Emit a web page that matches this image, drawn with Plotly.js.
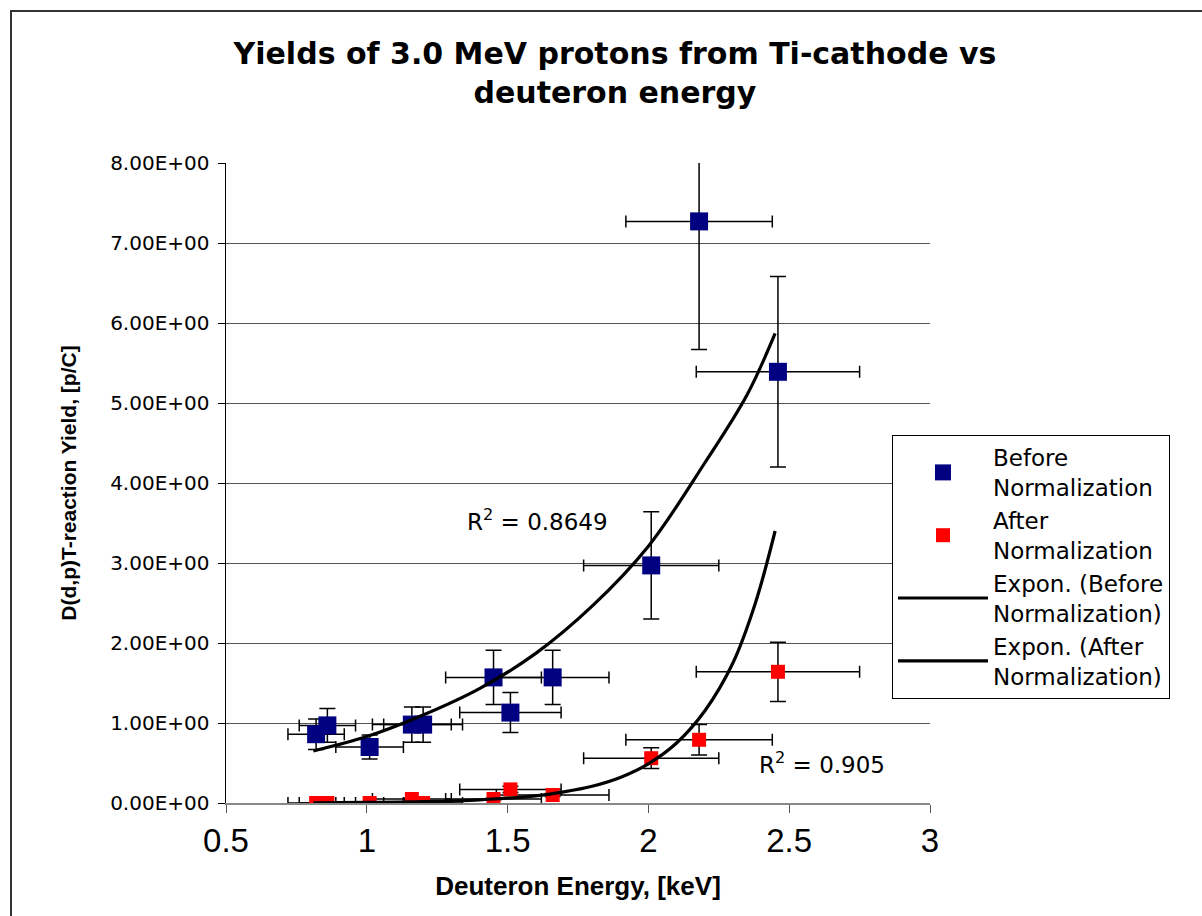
<!DOCTYPE html>
<html>
<head>
<meta charset="utf-8">
<script src="https://cdn.plot.ly/plotly-3.0.1.min.js"></script>
<style>
  html, body { margin: 0; padding: 0; background: #fff; overflow: hidden; }
  #frame { position: absolute; left: 10px; top: 10px; width: 1400px; height: 1100px; border: 2px solid #333; box-sizing: border-box; }
  #chart { position: absolute; left: 0; top: 0; width: 1202px; height: 916px; }
</style>
</head>
<body>
<div id="frame"></div>
<div id="chart"></div>
<script>
// Deuteron energy [keV] of each measurement
const energy = [0.82, 0.86, 1.01, 1.16, 1.20, 1.45, 1.51, 1.66, 2.01, 2.18, 2.46];
const energyErr = [0.10, 0.10, 0.12, 0.14, 0.14, 0.17, 0.18, 0.20, 0.24, 0.26, 0.29];

// Yields before normalization [p/C]
const beforeY = [0.86, 0.97, 0.70, 0.98, 0.98, 1.57, 1.13, 1.57, 2.97, 7.27, 5.39];
const beforeYErr = [0.19, 0.21, 0.15, 0.22, 0.22, 0.34, 0.25, 0.34, 0.67, 1.60, 1.19];

// Yields after normalization [p/C]
const afterY = [0.00, 0.00, 0.00, 0.05, 0.00, 0.05, 0.17, 0.10, 0.56, 0.79, 1.64];
const afterYErr = [0.00, 0.00, 0.00, 0.01, 0.00, 0.01, 0.04, 0.02, 0.13, 0.19, 0.37];

// Exponential trend lines
const trendBeforeX = [0.81, 1.0, 1.2, 1.4, 1.6, 1.8, 2.0, 2.2, 2.35, 2.45];
const trendBeforeY = [0.65, 0.83, 1.10, 1.43, 1.87, 2.46, 3.21, 4.25, 5.10, 5.87];
const trendAfterX = [0.81, 1.0, 1.2, 1.4, 1.6, 1.7, 1.8, 1.9, 2.0, 2.1, 2.2, 2.3, 2.38, 2.45];
const trendAfterY = [0.003, 0.007, 0.016, 0.04, 0.09, 0.14, 0.21, 0.32, 0.49, 0.75, 1.15, 1.75, 2.50, 3.40];

// Axis ticks
const xTicks = [0.5, 1, 1.5, 2, 2.5, 3];
const xTickLabels = ['0.5', '1', '1.5', '2', '2.5', '3'];
const yTicks = [0, 1, 2, 3, 4, 5, 6, 7, 8];
const yTickLabels = ['0.00E+00', '1.00E+00', '2.00E+00', '3.00E+00', '4.00E+00',
                     '5.00E+00', '6.00E+00', '7.00E+00', '8.00E+00'];

// Fit quality labels
const r2Before = '0.8649';
const r2After = '0.905';

const errStyle = {color: '#000', thickness: 1.5};

const traces = [
  {
    name: 'Before<br>Normalization',
    x: energy, y: beforeY, type: 'scatter', mode: 'markers',
    marker: {symbol: 'square', size: 18, color: '#000080'},
    error_x: Object.assign({type: 'data', array: energyErr, visible: true, width: 6}, errStyle),
    error_y: Object.assign({type: 'data', array: beforeYErr, visible: true, width: 8}, errStyle)
  },
  {
    name: 'After<br>Normalization',
    x: energy, y: afterY, type: 'scatter', mode: 'markers',
    marker: {symbol: 'square', size: 14, color: '#ff0000'},
    error_x: Object.assign({type: 'data', array: energyErr, visible: true, width: 6}, errStyle),
    error_y: Object.assign({type: 'data', array: afterYErr, visible: true, width: 8}, errStyle)
  },
  {
    name: 'Expon. (Before<br>Normalization)',
    x: trendBeforeX, y: trendBeforeY, type: 'scatter', mode: 'lines',
    line: {color: '#000', width: 3.2, shape: 'spline'}
  },
  {
    name: 'Expon. (After<br>Normalization)',
    x: trendAfterX, y: trendAfterY, type: 'scatter', mode: 'lines',
    line: {color: '#000', width: 3.2, shape: 'spline'}
  }
];

const layout = {
  width: 1202, height: 916,
  paper_bgcolor: 'rgba(0,0,0,0)',
  plot_bgcolor: '#fff',
  margin: {l: 226, r: 272, t: 163, b: 113},
  title: {
    text: '<b>Yields of 3.0 MeV protons from Ti-cathode vs<br>deuteron energy</b>',
    font: {family: 'DejaVu Sans', size: 30, color: '#000'},
    xref: 'container', yref: 'container',
    x: 0.5116, xanchor: 'center', y: 0.930, yanchor: 'middle'
  },
  showlegend: true,
  legend: {
    x: 0.946, xanchor: 'left', y: 0.575, yanchor: 'top',
    bgcolor: '#fff', bordercolor: '#000', borderwidth: 1,
    font: {family: 'DejaVu Sans', size: 23, color: '#000'},
    itemwidth: 90, tracegroupgap: 0
  },
  xaxis: {
    range: [0.5, 3], tickvals: xTicks, ticktext: xTickLabels,
    showgrid: false, zeroline: false,
    showline: true, linecolor: '#888', linewidth: 1.5,
    ticks: 'outside', ticklen: 8, tickcolor: '#555',
    tickfont: {family: 'Liberation Sans', size: 33, color: '#000'},
    title: {text: '<b>Deuteron Energy, [keV]</b>', standoff: 18,
            font: {family: 'Liberation Sans', size: 26, color: '#000'}}
  },
  yaxis: {
    range: [0, 8], tickvals: yTicks, ticktext: yTickLabels,
    showgrid: true, gridcolor: '#555', gridwidth: 1, zeroline: false,
    showline: true, linecolor: '#000', linewidth: 1.5,
    ticks: 'outside', ticklen: 7, tickcolor: '#000',
    ticklabelstandoff: 4,
    tickfont: {family: 'DejaVu Sans', size: 20, color: '#000'},
    title: {text: '<b>D(d,p)T-reaction Yield, [p/C]</b>', standoff: 28,
            font: {family: 'Liberation Sans', size: 21, color: '#000'}}
  },
  annotations: [
    {x: 1.349, y: 3.54, xref: 'x', yref: 'y', xanchor: 'left', yanchor: 'middle',
     text: 'R<sup>2</sup> = ' + r2Before, showarrow: false,
     font: {family: 'DejaVu Sans', size: 23, color: '#000'}},
    {x: 2.386, y: 0.50, xref: 'x', yref: 'y', xanchor: 'left', yanchor: 'middle',
     text: 'R<sup>2</sup> = ' + r2After, showarrow: false,
     font: {family: 'DejaVu Sans', size: 23, color: '#000'}}
  ]
};

Plotly.newPlot('chart', traces, layout, {displayModeBar: false, staticPlot: true});
</script>
</body>
</html>
